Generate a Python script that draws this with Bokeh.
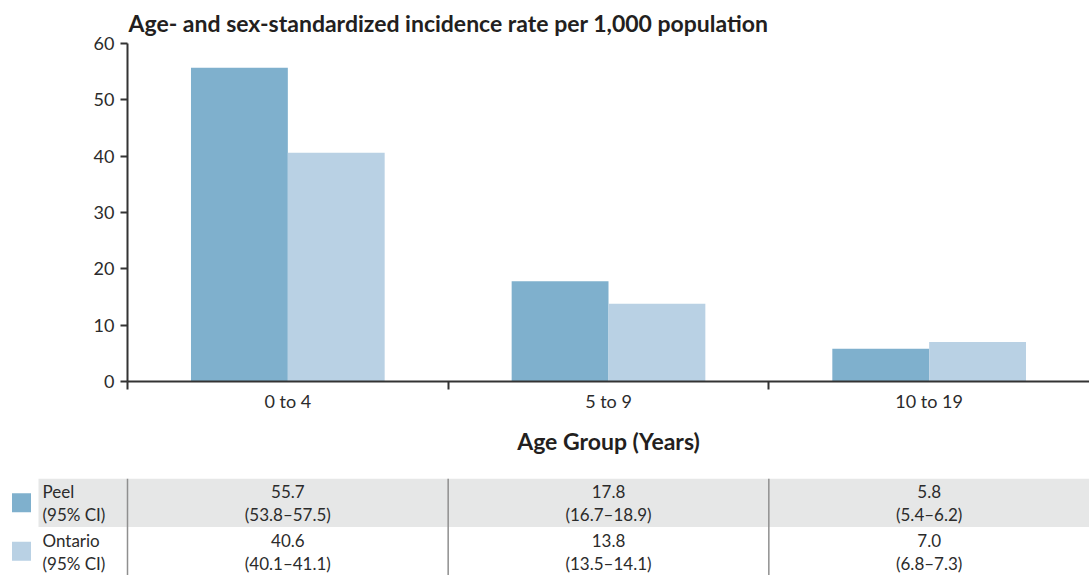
from bokeh.plotting import figure
from bokeh.models import Range1d, FixedTicker, Span, ColumnDataSource
from bokeh.transform import dodge
from bokeh.core.properties import value
from bokeh.embed import file_html
from bokeh.resources import INLINE

# ---- data ----
categories = ["0 to 4", "5 to 9", "10 to 19"]
series = ["Peel", "Ontario"]
peel = [55.7, 17.8, 5.8]
ontario = [40.6, 13.8, 7.0]
peel_ci = ["(53.8\u201357.5)", "(16.7\u201318.9)", "(5.4\u20136.2)"]
ontario_ci = ["(40.1\u201341.1)", "(13.5\u201314.1)", "(6.8\u20137.3)"]
y_ticks = [0, 10, 20, 30, 40, 50, 60]
title_text = "Age- and sex-standardized incidence rate per 1,000 population"
x_label = "Age Group (Years)"
ci_label = "(95% CI)"

# ---- style ----
PEEL = "#7FB0CD"
ONT = "#B9D1E4"
GRAY = "#E6E7E7"
AXIS = "#333333"
TXT = "#2b2b2b"
FONT = "Lato"

W = 1089
LEFT = 127
COLW = (W - LEFT) / 3
H1 = 478
H2 = 97

n = len(categories)
centers = [i + 0.5 for i in range(n)]

p = figure(width=W, height=H1, x_range=Range1d(0, n), y_range=Range1d(0, 60),
           output_backend="svg", toolbar_location=None,
           min_border_left=LEFT, min_border_right=0, min_border_top=42,
           min_border_bottom=97)
p.title.text = title_text
p.title.align = "left"
p.title.text_font = FONT
p.title.text_font_size = "23px"
p.title.text_font_style = "bold"
p.title.text_color = "#231f20"
p.title.offset = 1
p.title.standoff = 13

src = ColumnDataSource(dict(x=centers, peel=peel, ontario=ontario))
p.vbar(x=dodge("x", -0.151, range=p.x_range), top="peel", width=0.302,
       source=src, fill_color=PEEL, line_color=None)
p.vbar(x=dodge("x", 0.151, range=p.x_range), top="ontario", width=0.302,
       source=src, fill_color=ONT, line_color=None)

p.grid.visible = False
p.outline_line_color = None

xa = p.xaxis[0]
xa.ticker = FixedTicker(ticks=centers, minor_ticks=list(range(n)))
xa.major_label_overrides = {c: lab for c, lab in zip(centers, categories)}
xa.major_tick_line_color = None
xa.major_tick_out = 0
xa.major_tick_in = 0
xa.minor_tick_line_color = AXIS
xa.minor_tick_line_width = 2
xa.minor_tick_out = 8
xa.minor_tick_in = 0
xa.major_label_standoff = 0
xa.axis_line_color = AXIS
xa.axis_line_width = 2
xa.major_label_text_font = FONT
xa.major_label_text_font_size = "18px"
xa.major_label_text_color = TXT
xa.axis_label = x_label
xa.axis_label_text_font = FONT
xa.axis_label_text_font_size = "23px"
xa.axis_label_text_font_style = "bold"
xa.axis_label_text_color = "#231f20"
xa.axis_label_standoff = 12

ya = p.yaxis[0]
ya.ticker = FixedTicker(ticks=y_ticks)
ya.minor_tick_line_color = None
ya.major_tick_out = 7
ya.major_tick_in = 0
ya.major_tick_line_color = AXIS
ya.major_tick_line_width = 2
ya.axis_line_color = AXIS
ya.axis_line_width = 2
ya.major_label_standoff = 6
ya.major_label_text_font = FONT
ya.major_label_text_font_size = "18px"
ya.major_label_text_color = TXT

# ---- table ----
x0 = -LEFT / COLW
t = figure(width=W, height=H2, x_range=Range1d(x0, n), y_range=Range1d(0, 2),
           output_backend="svg", toolbar_location=None,
           x_axis_location=None, y_axis_location=None,
           min_border_left=0, min_border_right=0, min_border_top=0,
           min_border_bottom=0)
t.grid.visible = False
t.outline_line_color = None

t.quad(left=x0 + 38 / COLW, right=n, bottom=1, top=2, fill_color=GRAY, line_color=None)
row_y = [1.5, 0.5]
t.scatter(x=[x0 + 21 / COLW] * 2, y=row_y, marker="square", size=19,
          fill_color=[PEEL, ONT], line_color=None)
lab_x = x0 + 42 / COLW
t.text(x=[lab_x] * 2, y=row_y, text=series, y_offset=-11, text_baseline="middle",
       text_align="left", text_font=value(FONT), text_font_size="17px", text_color=TXT)
t.text(x=[lab_x] * 2, y=row_y, text=[ci_label] * 2, y_offset=12, text_baseline="middle",
       text_align="left", text_font=value(FONT), text_font_size="17px", text_color=TXT)

for vals, cis, yy in [(peel, peel_ci, 1.5), (ontario, ontario_ci, 0.5)]:
    ts = ColumnDataSource(dict(x=centers, y=[yy] * n, v=[f"{v:.1f}" for v in vals], ci=cis))
    t.text(x="x", y="y", text="v", source=ts, y_offset=-11, text_baseline="middle",
           text_align="center", text_font=value(FONT), text_font_size="17px", text_color=TXT)
    t.text(x="x", y="y", text="ci", source=ts, y_offset=12, text_baseline="middle",
           text_align="center", text_font=value(FONT), text_font_size="17px", text_color=TXT)

for i in range(n):
    t.add_layout(Span(location=i, dimension="height", line_color="#8f8f8f", line_width=1.5))

open("out.html", "w").write(file_html([p, t], INLINE))
